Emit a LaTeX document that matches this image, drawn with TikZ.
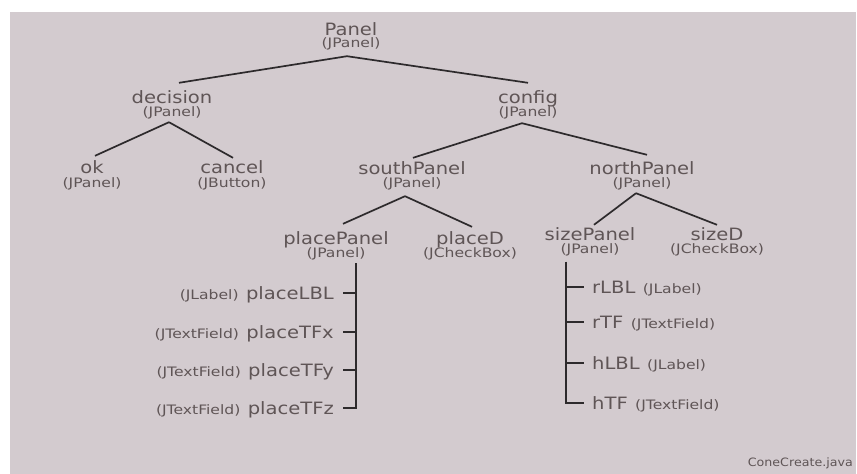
\documentclass[tikz,border=0pt]{standalone}
\usepackage{fontspec}
\newfontfamily\namefont[FakeStretch=1.15]{DejaVu Sans}
\newfontfamily\typefont[FakeStretch=1.2]{DejaVu Sans}
\newfontfamily\filefont[FakeStretch=1.1]{DejaVu Sans}
\definecolor{paper}{RGB}{211,203,207}
\definecolor{ink}{RGB}{95,85,86}
\definecolor{wire}{RGB}{45,42,44}
\begin{document}
\begin{tikzpicture}[x=1pt,y=-1pt,
  cname/.style={font=\namefont\fontsize{17}{20}\selectfont, text=ink,
    inner sep=0pt, text height=12.5pt, text depth=0pt, anchor=base},
  ctype/.style={font=\typefont\fontsize{13}{15}\selectfont, text=ink,
    inner sep=0pt, text height=9pt, text depth=2.5pt, anchor=base},
  link/.style={draw=wire, line width=1.7pt}]

% page and background
\useasboundingbox (0,0) rectangle (857,474);
\fill[white] (0,0) rectangle (857,474);
\fill[paper] (10,12) rectangle (856,474);

% component tree: name above, class below
\node[cname] (panel)  at (351,35)  {Panel};
\node[ctype] (panelT) at (351,47.5) {(JPanel)};

\node[cname] (decision)  at (172,103) {decision};
\node[ctype] (decisionT) at (172,116) {(JPanel)};
\node[cname] (config)    at (528,103) {config};
\node[ctype] (configT)   at (528,116) {(JPanel)};

\node[cname] (ok)      at (92,173)  {ok};
\node[ctype] (okT)     at (92,187)  {(JPanel)};
\node[cname] (cancel)  at (232,173) {cancel};
\node[ctype] (cancelT) at (232,187) {(JButton)};

\node[cname] (south)  at (412,174) {southPanel};
\node[ctype] (southT) at (412,187) {(JPanel)};
\node[cname] (north)  at (642,174) {northPanel};
\node[ctype] (northT) at (642,187) {(JPanel)};

\node[cname] (placePanel)  at (336,244) {placePanel};
\node[ctype] (placePanelT) at (336,257) {(JPanel)};
\node[cname] (placeD)      at (470,244) {placeD};
\node[ctype] (placeDT)     at (470,257) {(JCheckBox)};

\node[cname] (sizePanel)  at (590,240) {sizePanel};
\node[ctype] (sizePanelT) at (590,253) {(JPanel)};
\node[cname] (sizeD)      at (717,240) {sizeD};
\node[ctype] (sizeDT)     at (717,253) {(JCheckBox)};

% tree links
\draw[link] ([xshift=-4pt,yshift=-6pt]panelT.south) -- ([xshift=7pt,yshift=7.5pt]decision.north);
\draw[link] ([xshift=-4pt,yshift=-6pt]panelT.south) -- ([yshift=7.5pt]config.north);
\draw[link] ([xshift=-3pt,yshift=-3.5pt]decisionT.south) -- ([xshift=3pt,yshift=4.5pt]ok.north);
\draw[link] ([xshift=-3pt,yshift=-3.5pt]decisionT.south) -- ([xshift=1pt,yshift=2.5pt]cancel.north);
\draw[link] ([xshift=-6pt,yshift=-4.5pt]configT.south) -- ([xshift=1pt,yshift=3.5pt]south.north);
\draw[link] ([xshift=-6pt,yshift=-4.5pt]configT.south) -- ([xshift=5pt,yshift=6.5pt]north.north);
\draw[link] ([xshift=-7pt,yshift=-6.5pt]southT.south) -- ([xshift=7pt,yshift=7.5pt]placePanel.north);
\draw[link] ([xshift=-7pt,yshift=-6.5pt]southT.south) -- ([xshift=2pt,yshift=4.5pt]placeD.north);
\draw[link] ([xshift=-6pt,yshift=-3.5pt]northT.south) -- ([xshift=4pt,yshift=2.5pt]sizePanel.north);
\draw[link] ([xshift=-6pt,yshift=-3.5pt]northT.south) -- ([yshift=2.5pt]sizeD.north);

% placePanel children (class on the left)
\node[cname, anchor=base east] (placeLBL) at (334,299.25) {placeLBL};
\node[cname, anchor=base east] (placeTFx) at (334,338.25) {placeTFx};
\node[cname, anchor=base east] (placeTFy) at (334,376.25) {placeTFy};
\node[cname, anchor=base east] (placeTFz) at (334,414.25) {placeTFz};
\node[ctype, anchor=base east] (placeLBLT) at ([xshift=-7pt]placeLBL.base west) {(JLabel)};
\node[ctype, anchor=base east] (placeTFxT) at ([xshift=-7pt]placeTFx.base west) {(JTextField)};
\node[ctype, anchor=base east] (placeTFyT) at ([xshift=-7pt]placeTFy.base west) {(JTextField)};
\node[ctype, anchor=base east] (placeTFzT) at ([xshift=-7pt]placeTFz.base west) {(JTextField)};

\coordinate (ptop) at ([xshift=20pt,yshift=-3.5pt]placePanelT.south);
\draw[link] (ptop) |- ([xshift=9pt]placeTFz.east);
\foreach \n in {placeLBL,placeTFx,placeTFy}
  \draw[link] (ptop |- \n.east) -- ([xshift=9pt]\n.east);

% sizePanel children (class on the right)
\node[cname, anchor=base west] (rLBL) at (592,293.25) {rLBL};
\node[cname, anchor=base west] (rTF)  at (592,328.25) {rTF};
\node[cname, anchor=base west] (hLBL) at (592,369.25) {hLBL};
\node[cname, anchor=base west] (hTF)  at (592,409.25) {hTF};
\node[ctype, anchor=base west] (rLBLT) at ([xshift=7pt]rLBL.base east) {(JLabel)};
\node[ctype, anchor=base west] (rTFT)  at ([xshift=7pt]rTF.base east) {(JTextField)};
\node[ctype, anchor=base west] (hLBLT) at ([xshift=7pt]hLBL.base east) {(JLabel)};
\node[ctype, anchor=base west] (hTFT)  at ([xshift=7pt]hTF.base east) {(JTextField)};

\coordinate (stop) at ([xshift=-24pt,yshift=-6pt]sizePanelT.south);
\draw[link] (stop) |- ([xshift=-8pt]hTF.west);
\foreach \n in {rLBL,rTF,hLBL}
  \draw[link] (stop |- \n.west) -- ([xshift=-8pt]\n.west);

% source file tag
\node[font=\filefont\fontsize{11.5}{13}\selectfont, text=ink, inner sep=0pt, anchor=base east]
  (file) at (853,466) {ConeCreate.java};
\end{tikzpicture}
\end{document}
